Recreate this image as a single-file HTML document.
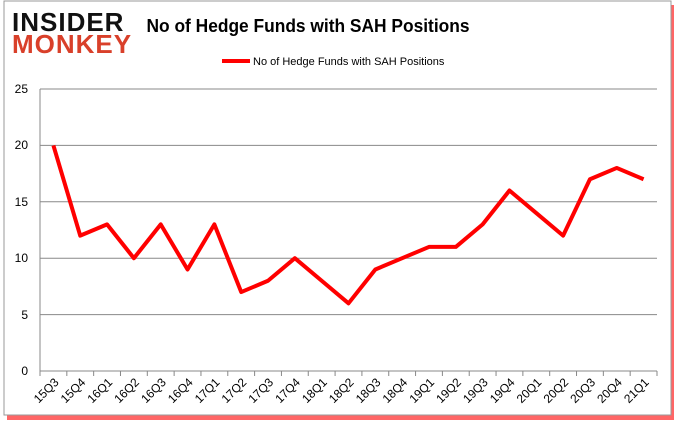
<!DOCTYPE html>
<html><head><style>
body{margin:0;width:678px;height:431px;background:#fff;overflow:hidden;font-family:"Liberation Sans",sans-serif}
</style></head><body>
<svg width="678" height="431" xmlns="http://www.w3.org/2000/svg">
<rect x="7" y="5" width="667" height="415" fill="#f00" opacity="0.6"/>
<rect x="4" y="1" width="667" height="414" fill="#fff" stroke="#999" stroke-width="1"/>
<text x="12" y="31" font-size="26" font-weight="bold" fill="#111" font-family="Liberation Sans" letter-spacing="1">INSIDER</text>
<text x="12" y="53" font-size="26" font-weight="bold" fill="#d9402a" font-family="Liberation Sans" letter-spacing="1">MONKEY</text>
<text x="308" y="32" font-size="18" font-weight="bold" text-anchor="middle" fill="#000" textLength="323" lengthAdjust="spacingAndGlyphs">No of Hedge Funds with SAH Positions</text>
<line x1="222" y1="61" x2="250" y2="61" stroke="#f00" stroke-width="4"/>
<text x="253" y="65" font-size="11" fill="#000">No of Hedge Funds with SAH Positions</text>
<g stroke="#888" stroke-width="1">
<line x1="40" y1="89" x2="657" y2="89"/><line x1="40" y1="145.4" x2="657" y2="145.4"/>
<line x1="40" y1="201.8" x2="657" y2="201.8"/><line x1="40" y1="258.2" x2="657" y2="258.2"/>
<line x1="40" y1="314.6" x2="657" y2="314.6"/><line x1="40" y1="371" x2="657" y2="371"/>
<line x1="40" y1="89" x2="40" y2="371"/>
</g>
<g font-size="12" text-anchor="end" fill="#000">
<text x="28" y="375">0</text><text x="28" y="319">5</text><text x="28" y="262">10</text>
<text x="28" y="206">15</text><text x="28" y="149">20</text><text x="28" y="93">25</text>
</g>
<g id="ticks" stroke="#888"></g>
<polyline fill="none" stroke="#f00" stroke-width="4" stroke-linejoin="round" id="pl"/>
<g id="lbl" font-size="12" fill="#000"></g>
</svg>
<script>
var v=[20,12,13,10,13,9,13,7,8,10,8,6,9,10,11,11,13,16,14,12,17,18,17];
var l=["15Q3","15Q4","16Q1","16Q2","16Q3","16Q4","17Q1","17Q2","17Q3","17Q4","18Q1","18Q2","18Q3","18Q4","19Q1","19Q2","19Q3","19Q4","20Q1","20Q2","20Q3","20Q4","21Q1"];
var sp=617/23,pts=[],t="",g="";
for(var i=0;i<23;i++){var x=40+sp*(i+0.5);pts.push(x+","+(371-v[i]*11.28));
g+='<text transform="translate('+(x+6)+',383) rotate(-45)" text-anchor="end">'+l[i]+'</text>';}
for(var i=0;i<=23;i++){var x=40+sp*i;t+='<line x1="'+x+'" y1="371" x2="'+x+'" y2="376"/>';}
document.getElementById('pl').setAttribute('points',pts.join(' '));
document.getElementById('ticks').innerHTML=t;
document.getElementById('lbl').innerHTML=g;
</script>
</body></html>
